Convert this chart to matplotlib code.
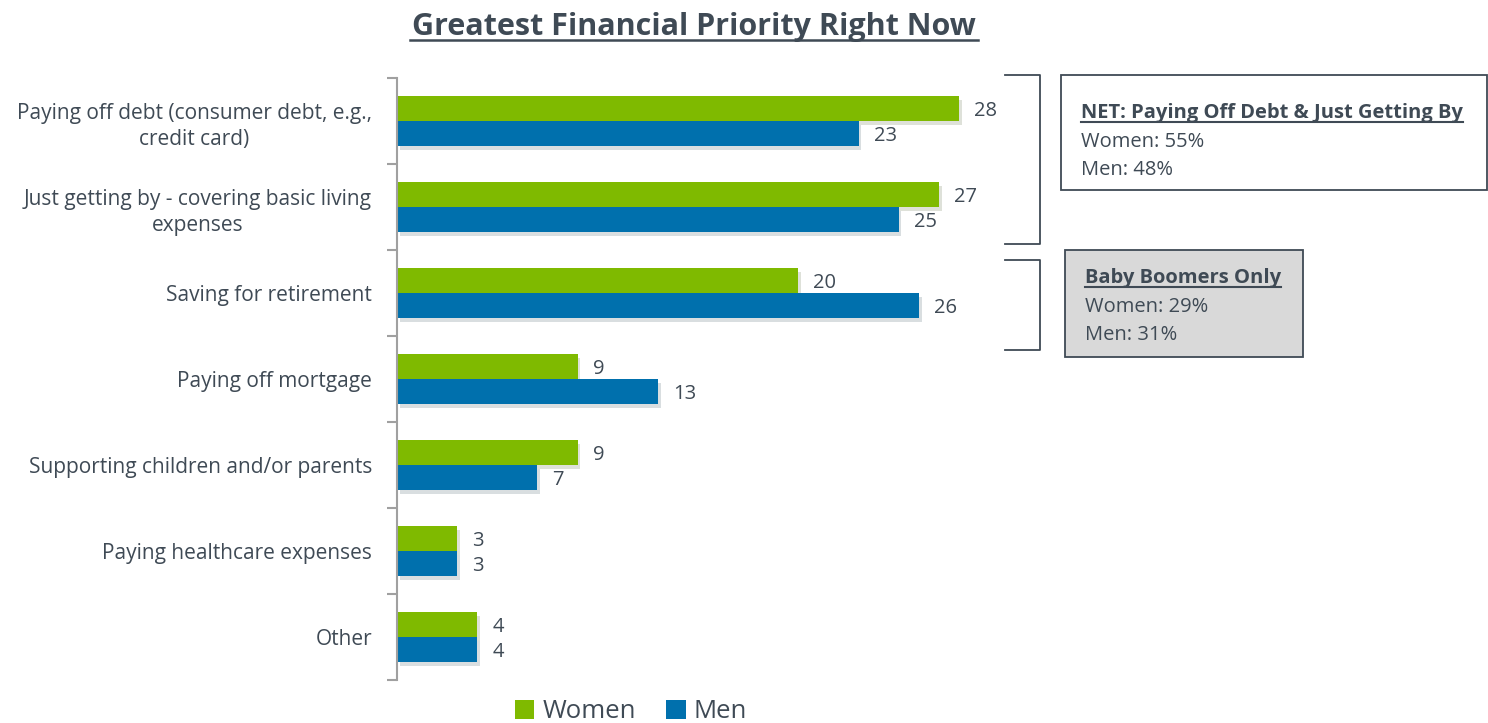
import numpy as np
import matplotlib
matplotlib.use('Agg')
import matplotlib.pyplot as plt
from matplotlib.patches import Rectangle
import matplotlib.patheffects as pe

# ── Données ──
categories = ["Paying off debt (consumer debt, e.g.,\ncredit card)",
              "Just getting by - covering basic living\nexpenses",
              "Saving for retirement",
              "Paying off mortgage",
              "Supporting children and/or parents",
              "Paying healthcare expenses",
              "Other"]
women = [28, 27, 20, 9, 9, 3, 4]
men = [23, 25, 26, 13, 7, 3, 4]

net_title = "NET: Paying Off Debt & Just Getting By"
net_lines = ["Women: 55%", "Men: 48%"]
boom_title = "Baby Boomers Only"
boom_lines = ["Women: 29%", "Men: 31%"]

GREEN = "#7FBA00"
BLUE = "#0070AD"
TXT = "#3F4A55"

plt.rcParams['font.family'] = ['Open Sans', 'DejaVu Sans']

fig = plt.figure(figsize=(14.88, 7.23), dpi=100)
W, H = 1488, 723
ax = fig.add_axes([397 / W, 1 - 680 / H, 602 / W, 602 / H])

y = np.arange(len(categories))
h = 0.29
shadow = [pe.SimplePatchShadow(offset=(2, -3), alpha=0.15), pe.Normal()]
b1 = ax.barh(y - h / 2, women, height=h, color=GREEN, label="Women", path_effects=shadow)
b2 = ax.barh(y + h / 2, men, height=h, color=BLUE, label="Men", path_effects=shadow)

for bars, vals in [(b1, women), (b2, men)]:
    for b, v in zip(bars, vals):
        ax.text(b.get_width() + 0.75, b.get_y() + b.get_height() / 2 + 0.03, str(v),
                va='center', ha='left', fontsize=14.5, color=TXT)

ax.set_xlim(0, 30)
ax.set_ylim(len(categories) - 0.5, -0.5)
ax.set_yticks(np.arange(len(categories) + 1) - 0.5)
ax.set_yticklabels([])
ax.set_yticks(y, minor=True)
ax.set_yticklabels(categories, minor=True, fontsize=15, color=TXT, ha='right',
                   multialignment='center', linespacing=1.35)
ax.tick_params(axis='y', which='major', length=7, color='#A0A0A0', width=1.5)
ax.tick_params(axis='y', which='minor', length=0, pad=18)
ax.set_xticks([])
for s in ['top', 'right', 'bottom']:
    ax.spines[s].set_visible(False)
ax.spines['left'].set_color('#A0A0A0')
ax.spines['left'].set_linewidth(1.5)

# Titre
fig.text(694 / W, 1 - 35 / H, "Greatest Financial Priority Right Now", ha='center', va='baseline',
         fontsize=22, fontweight='bold', color=TXT)
fig.add_artist(plt.Line2D([410 / W, 978 / W], [1 - 40 / H, 1 - 40 / H], color=TXT, lw=1.8))

# Accolades
def bracket(y0, y1, x0=1005, x1=1040):
    xs = [x0 / W, x1 / W, x1 / W, x0 / W]
    ys = [1 - y0 / H, 1 - y0 / H, 1 - y1 / H, 1 - y1 / H]
    fig.add_artist(plt.Line2D(xs, ys, color=TXT, lw=1.3, solid_joinstyle='round'))

bracket(75, 244)
bracket(260, 350)

# Encadrés
def box(x0, y0, x1, y1, fc, title, lines, tx, top):
    fig.add_artist(Rectangle((x0 / W, 1 - y1 / H), (x1 - x0) / W, (y1 - y0) / H,
                             transform=fig.transFigure, fc=fc, ec=TXT, lw=1.3))
    t = fig.text(tx / W, 1 - (y0 + top) / H, title, fontsize=14.5, fontweight='bold', color=TXT,
                 ha='left', va='baseline')
    fig.canvas.draw()
    bb = t.get_window_extent()
    fig.add_artist(plt.Line2D([bb.x0 / W, bb.x1 / W], [1 - (y0 + top + 4) / H] * 2, color=TXT, lw=1.5))
    for i, l in enumerate(lines):
        fig.text(tx / W, 1 - (y0 + top + 29 + 28 * i) / H, l, fontsize=14.5, color=TXT,
                 ha='left', va='baseline')

box(1061, 75, 1487, 190, 'white', net_title, net_lines, 1081, 43)
box(1065, 250, 1303, 357, '#D9D9D9', boom_title, boom_lines, 1085, 33)

leg = fig.legend(handles=[b1, b2], labels=["Women", "Men"], loc='center',
                 bbox_to_anchor=(631 / W, 1 - 712 / H), ncol=2, frameon=False,
                 fontsize=18.5, handlelength=0.75, handleheight=0.75, columnspacing=1.2,
                 handletextpad=0.3)
for t in leg.get_texts():
    t.set_color(TXT)
for hd in leg.legend_handles:
    hd.set_path_effects([])

fig.savefig("out.png", dpi=100)
